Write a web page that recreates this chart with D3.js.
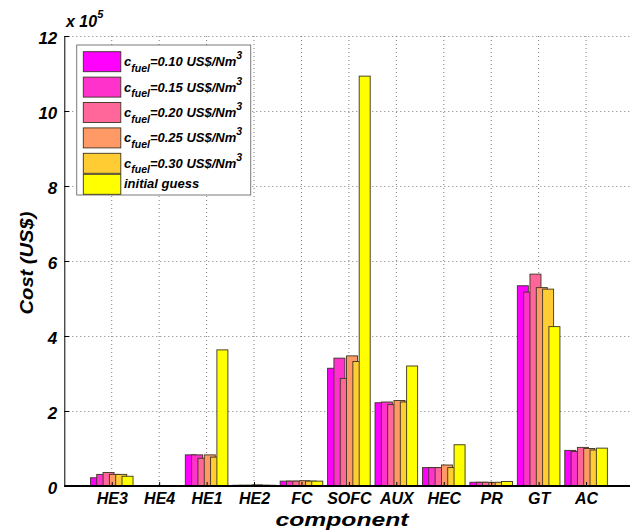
<!DOCTYPE html>
<html>
<head>
<meta charset="utf-8">
<script src="https://cdn.jsdelivr.net/npm/d3@7"></script>
<style>
  body { margin: 0; background: #fff; }
  svg { display: block; }
  text { font-family: "Liberation Sans", Arial, sans-serif; font-weight: bold; font-style: italic; }
</style>
</head>
<body>
<div id="chart"></div>
<script>
// categories along the x axis
var categories = ["HE3", "HE4", "HE1", "HE2", "FC", "SOFC", "AUX", "HEC", "PR", "GT", "AC"];

// legend entries (fuel cost in US$/Nm3, last one is the initial guess)
var fuelCosts = ["0.10", "0.15", "0.20", "0.25", "0.30", "initial guess"];
var seriesColors = ["#ff00ff", "#ff33cc", "#ff6699", "#ff9966", "#ffcc33", "#ffff00"];

// cost in units of 1e5 US$, one array per series
var cost010 = [0.22, 0.00, 0.83, 0.02, 0.13, 3.14, 2.22, 0.49, 0.10, 5.34, 0.95];
var cost015 = [0.31, 0.00, 0.83, 0.02, 0.13, 3.41, 2.24, 0.49, 0.10, 5.17, 0.92];
var cost020 = [0.36, 0.00, 0.74, 0.02, 0.13, 2.87, 2.17, 0.49, 0.10, 5.65, 1.03];
var cost025 = [0.31, 0.00, 0.83, 0.03, 0.14, 3.47, 2.28, 0.56, 0.09, 5.29, 1.00];
var cost030 = [0.31, 0.00, 0.77, 0.02, 0.13, 3.32, 2.24, 0.49, 0.10, 5.25, 0.96];
var costGuess = [0.26, 0.00, 3.63, 0.02, 0.13, 10.93, 3.20, 1.10, 0.12, 4.25, 1.01];

var yTicks = [0, 2, 4, 6, 8, 10, 12];

var allSeries = [cost010, cost015, cost020, cost025, cost030, costGuess];

var W = 630, H = 530;

// x axis runs 0..12 with the categories sitting at 1..11
var x = d3.scaleLinear()
          .domain([0, 12])
          .range([64.3, 633.5]);
var y = d3.scaleLinear()
          .domain([0, 12])
          .range([486, 36]);

// bars inside a group overlap (matlab style)
var inner = d3.scalePoint()
              .domain(d3.range(fuelCosts.length))
              .range([x(-0.333) - x(0), x(0.333) - x(0)]);
var barW = x(0.232) - x(0);

var svg = d3.select("#chart").append("svg")
            .attr("width", W)
            .attr("height", H);

// dotted grid
var grid = svg.append("g")
              .attr("stroke", "#7a7a7a")
              .attr("stroke-width", 1)
              .attr("stroke-dasharray", "1,3");
grid.selectAll("line.h")
    .data(yTicks.filter(function(d){ return d > 0; }))
    .enter().append("line")
    .attr("x1", x(0)).attr("x2", x(12))
    .attr("y1", function(d){ return y(d) + 0.5; })
    .attr("y2", function(d){ return y(d) + 0.5; });
grid.selectAll("line.v")
    .data(categories)
    .enter().append("line")
    .attr("x1", function(d, i){ return x(i + 1); })
    .attr("x2", function(d, i){ return x(i + 1); })
    .attr("y1", y(12)).attr("y2", y(0));

// bars, series by series so later ones sit on top
allSeries.forEach(function(vals, s){
  svg.append("g")
     .selectAll("rect")
     .data(vals)
     .enter().append("rect")
     .attr("x", function(d, i){ return x(i + 1) + inner(s) - barW / 2; })
     .attr("y", function(d){ return y(d); })
     .attr("width", barW)
     .attr("height", function(d){ return y(0) - y(d); })
     .attr("fill", seriesColors[s])
     .attr("stroke", "#3a3520")
     .attr("stroke-width", 0.9);
});

// baseline
svg.append("line")
   .attr("x1", x(0)).attr("x2", x(12))
   .attr("y1", y(0)).attr("y2", y(0))
   .attr("stroke", "#000")
   .attr("stroke-width", 2.2);

// y axis
var yAxis = svg.append("g")
   .attr("transform", "translate(" + x(0) + ",0)")
   .call(d3.axisLeft(y).tickValues(yTicks).tickSizeInner(-5).tickSizeOuter(0).tickPadding(7));
yAxis.select(".domain").attr("stroke", "#000");
yAxis.selectAll("text")
     .attr("font-size", 17)
     .attr("font-family", null)
     .attr("dy", "0.42em")
     .attr("fill", "#000");

// x axis labels / ticks
var xAxis = svg.append("g")
   .attr("transform", "translate(0," + y(0) + ")")
   .call(d3.axisBottom(x)
           .tickValues(d3.range(1, categories.length + 1))
           .tickFormat(function(d){ return categories[d - 1]; })
           .tickSizeInner(-4).tickSizeOuter(0).tickPadding(7));
xAxis.select(".domain").remove();
xAxis.selectAll("text")
     .attr("font-size", 16)
     .attr("font-family", null)
     .attr("fill", "#000");

// exponent label
var expo = svg.append("text")
   .attr("x", 66).attr("y", 27)
   .attr("font-size", 16);
expo.append("tspan").text("x 10");
expo.append("tspan").attr("font-size", 11).attr("dy", -9).text("5");

// axis titles
svg.append("text")
   .attr("transform", "translate(33,263) rotate(-90) scale(1.06,1)")
   .attr("text-anchor", "middle")
   .attr("font-size", 19)
   .text("Cost (US$)");
svg.append("text")
   .attr("transform", "translate(342,525.5) scale(1.3,1)")
   .attr("text-anchor", "middle")
   .attr("font-size", 19)
   .text("component");

// legend
var legend = svg.append("g");
legend.append("rect")
      .attr("x", 76.7).attr("y", 45)
      .attr("width", 174).attr("height", 150)
      .attr("fill", "#fff")
      .attr("stroke", "#7a7a7a")
      .attr("stroke-width", 1);
fuelCosts.forEach(function(label, i){
  var top = i < 5 ? 51.7 + i * 25.4 : 174.3;
  legend.append("rect")
        .attr("x", 83.3).attr("y", top)
        .attr("width", 37.5).attr("height", 20)
        .attr("fill", seriesColors[i])
        .attr("stroke", "#3a3520")
        .attr("stroke-width", 0.9);
  var t = legend.append("text")
        .attr("x", 124).attr("y", top + 14.5)
        .attr("font-size", 13);
  if (i < 5) {
    t.append("tspan").text("c");
    t.append("tspan").attr("font-size", 10.5).attr("dy", 5.5).text("fuel");
    t.append("tspan").attr("dy", -5.5).text("=" + label + " US$/Nm");
    t.append("tspan").attr("font-size", 10.5).attr("dy", -7).text("3");
  } else {
    t.attr("y", top + 13.5).text(label);
  }
});
</script>
</body>
</html>
